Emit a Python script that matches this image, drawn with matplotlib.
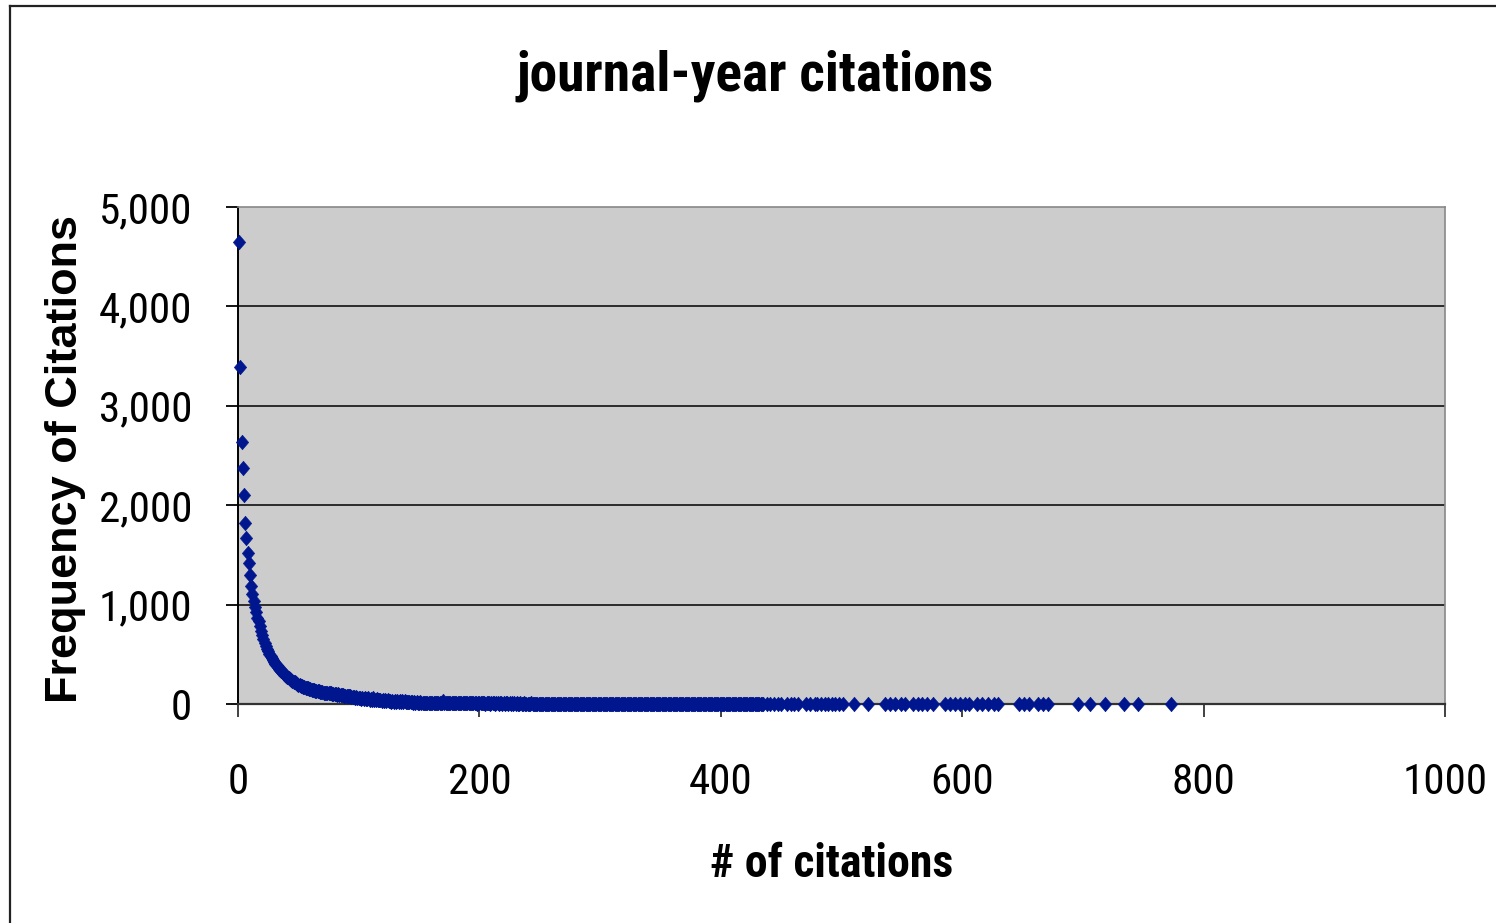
import numpy as np
import matplotlib
matplotlib.use("Agg")
import matplotlib.pyplot as plt
from matplotlib import font_manager as fm
from matplotlib.path import Path
from matplotlib.lines import Line2D
from matplotlib.ticker import FuncFormatter, FixedLocator

# ---- data ----
# frequencies for citation counts 1, 2, 3, ... (consecutive)
freq_head = [
    4650, 3390, 2640, 2375, 2100, 1820, 1670, 1520, 1420, 1300,
    1190, 1110, 1040, 980, 930, 870, 830, 780, 730, 690,
    650, 610, 580, 555, 530, 505, 480, 460, 445, 425,
    405, 390, 370, 355, 345, 330, 318, 305, 295, 285,
    272, 262, 250, 243, 235, 225, 218, 210, 204, 196,
    190, 184, 178, 175, 168, 165, 160, 156, 152, 148,
    145, 140, 138, 135, 131, 128, 126, 122, 120, 118,
    115, 114, 112, 110, 108, 106, 112, 104, 100, 102,
    97, 95, 98, 92, 90, 88, 95, 85, 82, 84,
    78, 76, 80, 70, 72, 68, 65, 70, 62, 60,
    64, 55, 58, 52, 56, 50, 48, 60, 45, 52,
    44, 58, 42, 40, 50, 38, 36, 40, 34, 38,
    30, 36, 28, 40, 26, 33, 25, 30, 22, 35,
    24, 28, 20, 32, 22, 26, 18, 30, 21, 24,
    17, 25, 19, 22, 15, 20, 12, 18, 14, 11,
    16, 12, 10, 14, 9, 13, 11, 8, 12, 10,
    9, 11, 8, 12, 7, 10, 9, 14, 11, 30,
    10, 8, 12, 7, 9, 11, 8, 10, 6, 9,
    8, 10, 7, 9, 6, 11, 8, 7, 9, 6,
    8, 7, 10, 6, 8, 7, 9, 5, 8, 6,
    7, 9, 6, 8, 5, 7, 6, 9, 5, 7,
    6, 8, 5, 7, 6, 5, 8, 6, 4, 7,
    5, 6, 7, 4, 6, 5, 7, 4, 6, 5,
    6, 4, 5, 7, 4, 5, 6, 4, 5, 3,
    5, 4, 6, 3, 5, 4, 5, 3, 4, 5,
    4, 3, 5, 4, 3, 5, 4, 3, 4, 2,
    4, 3, 4, 2, 3, 4, 3, 2, 4, 3,
    3, 2, 4, 3, 2, 3, 3, 2, 3, 2,
    3, 2, 3, 2, 2, 3, 2, 3, 2, 2,
    3, 2, 2, 1, 3, 2, 2, 1, 2, 3,
    2, 1, 2, 2, 1, 3, 2, 1, 2, 1,
    2, 2, 1, 2, 1, 2, 1, 1, 2, 1,
    2, 1, 1, 2, 1, 2, 1, 1, 1, 2,
    1, 1, 2, 1, 1, 1, 2, 1, 1, 1,
    2, 1, 1, 1, 1, 2, 1, 1, 1, 1,
    1, 2, 1, 1, 1, 1, 1, 2, 1, 1,
    1, 1, 1, 1, 2, 1, 1, 1, 1, 1,
    1, 1, 1, 2, 1, 1, 1, 1, 1, 1,
    1, 1, 1, 1, 1, 1, 2, 1, 1, 1,
    1, 1, 1, 1, 1, 1, 1, 1, 1, 1,
    1, 1, 1, 1, 1, 1, 1, 1, 1, 1,
    1, 1, 1, 1, 1, 1, 1, 1, 1, 1,
    1, 1, 1, 1, 1, 1, 1, 1, 1, 1,
    1, 1, 1, 1, 1,
]
citations_head = np.arange(1, len(freq_head) + 1)

# sparse tail
citations_tail = [438, 441, 444, 447, 450, 455, 458, 461, 464, 471, 474, 478,
                  480, 483, 486, 489, 492, 495, 498, 501, 510, 522, 536, 540,
                  544, 549, 553, 559, 563, 567, 571, 576, 586, 590, 594, 598,
                  602, 606, 612, 616, 621, 626, 630, 647, 651, 655, 663, 667,
                  671, 696, 706, 718, 734, 746, 773]
freq_tail = [2, 1, 1, 2, 1, 1, 1, 2, 1, 1, 1, 1,
             2, 1, 1, 1, 1, 2, 1, 1, 1, 1, 1, 1,
             1, 1, 1, 1, 1, 1, 1, 1, 1, 1, 1, 1,
             1, 1, 1, 1, 1, 1, 1, 1, 1, 1, 1, 1,
             1, 1, 1, 1, 1, 1, 1]

x_ticks = [0, 200, 400, 600, 800, 1000]
y_ticks = [0, 1000, 2000, 3000, 4000, 5000]

title = "journal-year citations"
x_label = "# of citations"
y_label = "Frequency of Citations"

# ---- fonts: look for a condensed sans face ----
def find_condensed(bold):
    cands = []
    for f in fm.fontManager.ttflist:
        name = f.name.lower()
        path = f.fname.lower()
        is_bold = (f.weight in ('bold', 700, 'heavy', 800) or
                   (isinstance(f.weight, int) and f.weight >= 600))
        if is_bold != bold:
            continue
        narrow = ('narrow' in name or 'condensed' in name or 'narrow' in path
                  or ('condensed' in path and 'semicondensed' not in path)
                  or f.stretch in ('condensed', 'semi-condensed', 'extra-condensed'))
        if not narrow:
            continue
        if 'oblique' in path or 'italic' in path or f.style != 'normal':
            continue
        score = 0
        if 'liberation' in name or 'arial' in name:
            score = 3
        elif 'roboto' in name or 'open' in name:
            score = 2
        elif 'dejavu' in name:
            score = 1
        cands.append((score, f.fname))
    if cands:
        cands.sort(reverse=True)
        return cands[0][1]
    return None

reg_c = find_condensed(False)
bold_c = find_condensed(True)

def fp(path, size, fallback_family, weight='normal', shrink=0.82):
    if path:
        return fm.FontProperties(fname=path, size=size)
    return fm.FontProperties(family=fallback_family, weight=weight, size=size * shrink)

# ---- styling ----
W, H = 1496, 923
DPI = 100
MARK = '#00168F'

fig = plt.figure(figsize=(W / DPI, H / DPI), dpi=DPI)
fig.patch.set_facecolor('white')

ax = fig.add_axes([238 / W, 1 - 704 / H, (1445 - 238) / W, (704 - 207) / H])
ax.set_facecolor('#CCCCCC')
ax.set_xlim(0, 1000)
ax.set_ylim(0, 5000)

diamond = Path([(0, 1), (0.85, 0), (0, -1), (-0.85, 0), (0, 1)],
               [Path.MOVETO, Path.LINETO, Path.LINETO, Path.LINETO, Path.CLOSEPOLY])

x_all = np.concatenate([citations_head, np.array(citations_tail)])
y_all = np.concatenate([np.array(freq_head), np.array(freq_tail)])
ax.plot(x_all, y_all, linestyle='none', marker=diamond, markersize=10.5,
        markerfacecolor=MARK, markeredgecolor=MARK, markeredgewidth=0.4,
        clip_on=False, zorder=5)

ax.xaxis.set_major_locator(FixedLocator(x_ticks))
ax.yaxis.set_major_locator(FixedLocator(y_ticks))
ax.yaxis.set_major_formatter(FuncFormatter(lambda v, p: f"{v:,.0f}"))
ax.xaxis.set_major_formatter(FuncFormatter(lambda v, p: f"{v:.0f}"))

for y in y_ticks[1:-1]:
    ax.axhline(y, color='black', linewidth=1.1, zorder=1)

ax.spines['left'].set_color('black')
ax.spines['left'].set_linewidth(1.4)
ax.spines['bottom'].set_color('#333333')
ax.spines['bottom'].set_linewidth(1.6)
for s in ('top', 'right'):
    ax.spines[s].set_color('#888888')
    ax.spines[s].set_linewidth(1.2)

ax.tick_params(axis='x', direction='out', length=9, width=1.3, color='#333333', pad=33)
ax.tick_params(axis='y', direction='out', length=9, width=1.3, color='black', pad=24)
tick_fp = fp(reg_c, 31, ['Liberation Sans', 'DejaVu Sans'])
for lab in ax.get_xticklabels() + ax.get_yticklabels():
    lab.set_fontproperties(tick_fp)

fig.text(755 / W, 1 - 90 / H, title, ha='center', va='baseline',
         fontproperties=fp(bold_c, 40, ['Liberation Sans', 'DejaVu Sans'], 'bold'))
fig.text(832 / W, 1 - 877 / H, x_label, ha='center', va='baseline',
         fontproperties=fp(bold_c, 33, ['Liberation Sans', 'DejaVu Sans'], 'bold'))
fig.text(66 / W, 1 - 459 / H, y_label, ha='center', va='center', rotation=90,
         fontsize=32.5, fontweight='bold', family=['Liberation Sans', 'DejaVu Sans'])

# outer chart frame (cropped at right and bottom)
fig.add_artist(Line2D([10 / W, 10 / W], [0, 1 - 6 / H], transform=fig.transFigure,
                      color='#222222', linewidth=1.6))
fig.add_artist(Line2D([10 / W, 1], [1 - 6 / H, 1 - 6 / H], transform=fig.transFigure,
                      color='#222222', linewidth=1.6))

fig.savefig('out.png', dpi=DPI, facecolor='white')
